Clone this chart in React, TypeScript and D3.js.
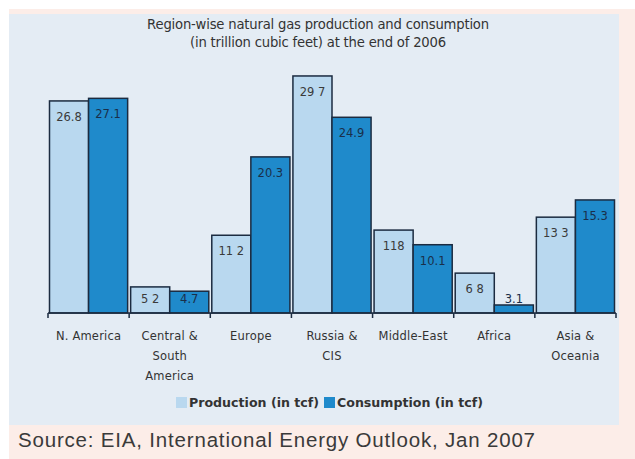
import React from "react";
import * as d3 from "d3";

const categories = ["N. America", "Central & South America", "Europe", "Russia & CIS", "Middle-East", "Africa", "Asia & Oceania"];
const categoryLines = [["N. America"], ["Central &", "South", "America"], ["Europe"], ["Russia &", "CIS"], ["Middle-East"], ["Africa"], ["Asia &", "Oceania"]];
const production = [26.8, 5.2, 11.2, 29.7, 11.8, 6.8, 13.3];
const consumption = [27.1, 4.7, 20.3, 24.9, 10.1, 3.1, 15.3];
const productionLabels = ["26.8", "5 2", "11 2", "29 7", "118", "6 8", "13 3"];
const consumptionLabels = ["27.1", "4.7", "20.3", "24.9", "10.1", "3.1", "15.3"];
const seriesNames = ["Production (in tcf)", "Consumption (in tcf)"];
const titleLines = ["Region-wise natural gas production and consumption", "(in trillion cubic feet) at the end of 2006"];
const sourceText = "Source: EIA, International Energy Outlook, Jan 2007";

const W = 635, H = 459;
const baseY = 313;
const colors = ["#b9d8ef", "#1f8acb"];
const stroke = "#1b2b40";
const font = "DejaVu Sans, Verdana, sans-serif";

export default function App() {
  const x = d3.scaleBand<string>().domain(categories).range([48, 616]).padding(0);
  const xs = d3.scaleBand<string>().domain(seriesNames).range([1.5, x.bandwidth() - 1.5]).padding(0);
  const y = d3.scaleLinear().domain([2.17, 32]).range([baseY, baseY - 8.61 * (32 - 2.17)]);
  const series = [production, consumption];
  const labels = [productionLabels, consumptionLabels];
  const ticks = [...categories.map((c) => x(c)!), 616];

  return (
    <svg width={W} height={H} style={{ position: "absolute", left: 0, top: 0 }} xmlns="http://www.w3.org/2000/svg">
      <rect x={0} y={0} width={W} height={H} fill="#ffffff" />
      <rect x={9} y={9} width={W - 9} height={H - 9} fill="#fcede8" />
      <rect x={9} y={14} width={610} height={411} fill="#e4ecf4" />
      {titleLines.map((t, i) => (
        <text key={i} x={318} y={29 + i * 17.5} textAnchor="middle" fontFamily={font} fontSize={13.2} fill="#333" letterSpacing={-0.2}>{t}</text>
      ))}
      {categories.map((c, ci) => (
        <g key={c}>
          {series.map((vals, si) => {
            const bx = x(c)! + xs(seriesNames[si])!;
            const top = y(vals[ci]);
            const cx = bx + xs.bandwidth() / 2;
            const ly = Math.min(top + 20, baseY - 10);
            return (
              <g key={si}>
                <rect x={bx} y={top} width={xs.bandwidth()} height={baseY - top} fill={colors[si]} stroke={stroke} strokeWidth={1.5} />
                <text x={cx} y={ly} textAnchor="middle" fontFamily={font} fontSize={11.5} fill={si === 0 ? "#3a3a3a" : "#1a2f4a"}>{labels[si][ci]}</text>
              </g>
            );
          })}
          {categoryLines[ci].map((l, li) => (
            <text key={li} x={x(c)! + x.bandwidth() / 2} y={340 + li * 20} textAnchor="middle" fontFamily={font} fontSize={11.5} fill="#333" letterSpacing={0.2}>{l}</text>
          ))}
        </g>
      ))}
      <line x1={48} x2={616} y1={baseY} y2={baseY} stroke={stroke} strokeWidth={1.5} />
      {ticks.map((t, i) => (
        <line key={i} x1={t} x2={t} y1={baseY} y2={baseY + 5} stroke={stroke} strokeWidth={1.5} />
      ))}
      <rect x={176} y={397} width={11} height={11} fill={colors[0]} />
      <text x={189} y={406.5} fontFamily={font} fontSize={12.6} fontWeight="bold" fill="#333">{seriesNames[0]}</text>
      <rect x={324} y={397} width={11} height={11} fill={colors[1]} />
      <text x={337} y={406.5} fontFamily={font} fontSize={12.6} fontWeight="bold" fill="#333">{seriesNames[1]}</text>
      <text x={18} y={447} fontFamily="Liberation Sans, Arial, sans-serif" fontSize={20.5} fill="#3a3a3a" textLength={517} lengthAdjust="spacing">{sourceText}</text>
    </svg>
  );
}
